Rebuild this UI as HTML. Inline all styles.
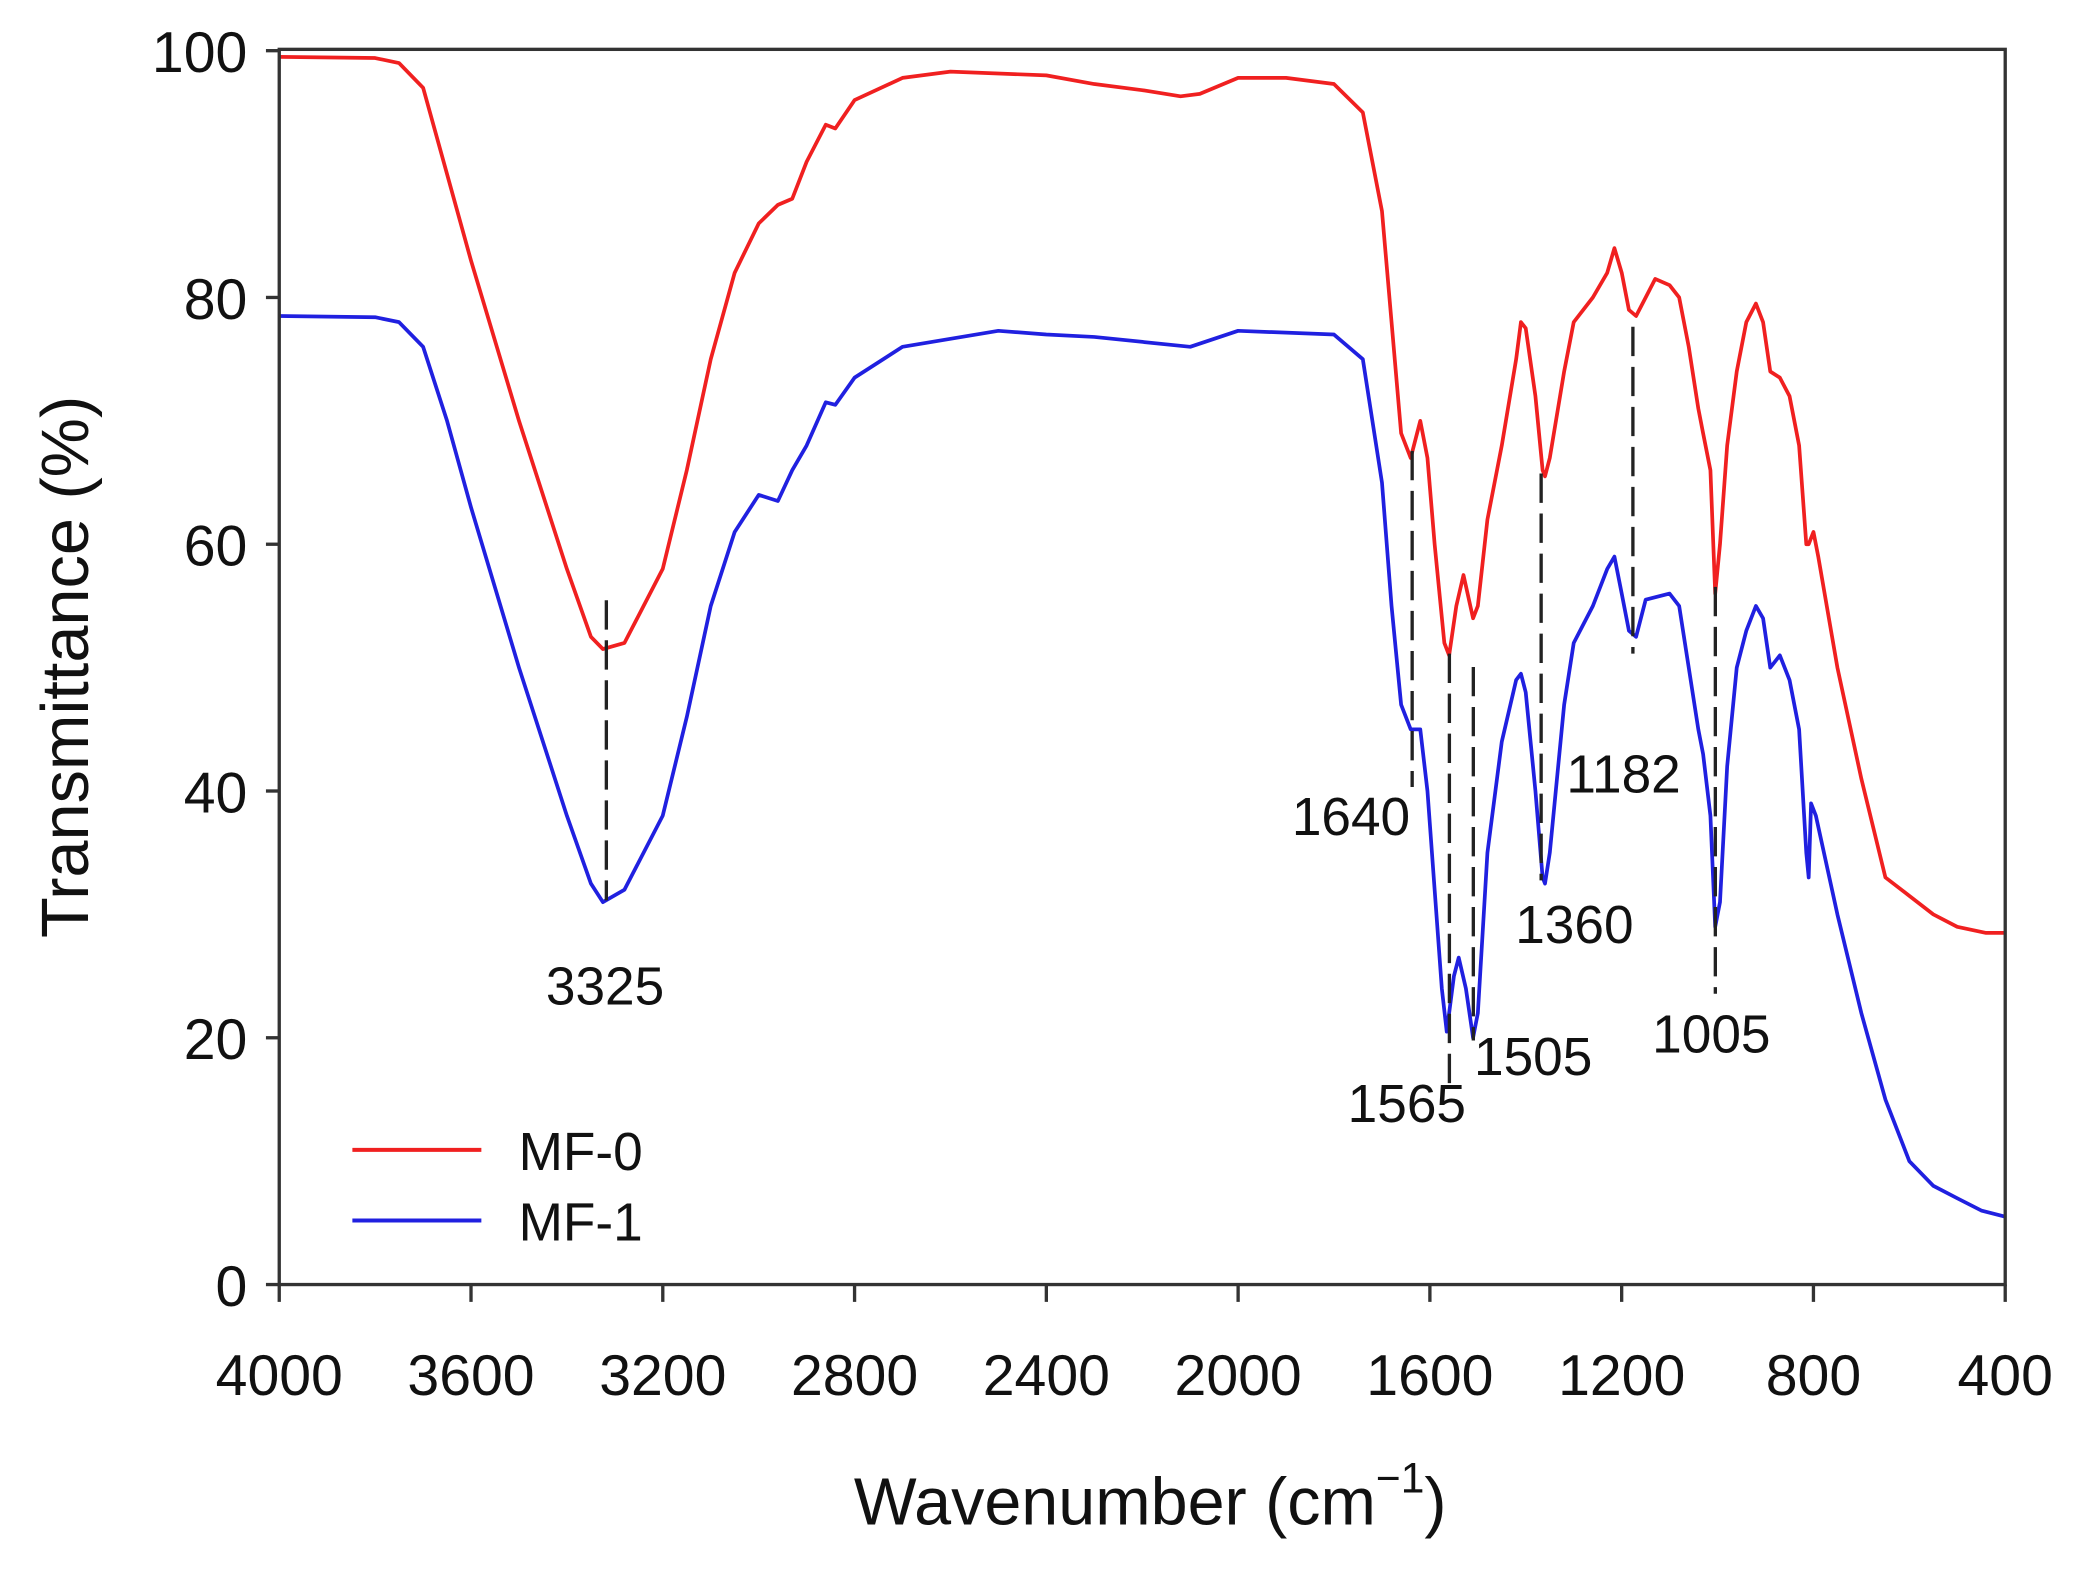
<!DOCTYPE html>
<html><head><meta charset="utf-8"><style>
html,body{margin:0;padding:0;background:#fff;}
svg{display:block;}
text{font-family:"Liberation Sans",Arial,sans-serif;fill:#111;}
</style></head><body>
<svg id="s" width="2085" height="1574" viewBox="0 0 1568 1180" preserveAspectRatio="none" xmlns="http://www.w3.org/2000/svg">
<rect x="0" y="0" width="1568" height="1180" fill="#fff"/>
<g id="plot"></g>
<rect x="210" y="37" width="1298" height="926" fill="none" stroke="#333" stroke-width="2.5"/>
<g stroke="#333" stroke-width="2.5" id="ticks"></g>
<g font-size="43" text-anchor="end">
<text x="186" y="54">100</text><text x="186" y="239">80</text><text x="186" y="424">60</text>
<text x="186" y="609">40</text><text x="186" y="794">20</text><text x="186" y="979">0</text>
</g>
<g font-size="43" text-anchor="middle" id="xl"></g>
<text x="865" y="1143" font-size="50" text-anchor="middle">Wavenumber (cm<tspan font-size="32" dy="-24">−1</tspan><tspan dy="24">)</tspan></text>
<text transform="translate(66,500) rotate(-90)" font-size="50" text-anchor="middle">Transmittance (%)</text>
<g stroke="#222" stroke-width="2.5" stroke-dasharray="22,8">
<line x1="456" y1="450" x2="456" y2="675"/>
<line x1="1062" y1="338" x2="1062" y2="590"/>
<line x1="1090" y1="490" x2="1090" y2="820"/>
<line x1="1108" y1="500" x2="1108" y2="780"/>
<line x1="1159" y1="355" x2="1159" y2="660"/>
<line x1="1228" y1="245" x2="1228" y2="490"/>
<line x1="1290" y1="440" x2="1290" y2="745"/>
</g>
<g font-size="40" text-anchor="middle">
<text x="455" y="753">3325</text><text x="1016" y="626">1640</text>
<text x="1058" y="841">1565</text><text x="1153" y="806">1505</text>
<text x="1184" y="707">1360</text><text x="1221" y="594">1182</text>
<text x="1287" y="789">1005</text>
</g>
<line x1="265" y1="862" x2="362" y2="862" stroke="#f02020" stroke-width="3"/>
<line x1="265" y1="915" x2="362" y2="915" stroke="#2020e0" stroke-width="3"/>
<text x="390" y="877" font-size="40">MF-0</text>
<text x="390" y="930" font-size="40">MF-1</text>
</svg>
<script>
var X=function(w){return 210+(4000-w)/3600*1298;},Y=function(v){return 963-v*9.25;};
var red=[4000,99.5,3800,99.4,3750,99,3700,97,3650,90,3600,83,3500,70,3400,58,3350,52.5,3325,51.5,3280,52,3200,58,3150,66,3100,75,3050,82,3000,86,2960,87.5,2930,88,2900,91,2860,94,2840,93.7,2800,96,2700,97.8,2600,98.3,2400,98,2300,97.3,2200,96.8,2120,96.3,2080,96.5,2000,97.8,1900,97.8,1800,97.3,1740,95,1700,87,1680,78,1660,69,1640,67,1620,70,1605,67,1590,60,1570,52,1560,51,1545,55,1530,57.5,1510,54,1500,55,1480,62,1450,68,1420,75,1410,78,1400,77.5,1380,72,1365,66,1360,65.5,1350,67,1320,74,1300,78,1260,80,1230,82,1215,84,1200,82,1185,79,1170,78.5,1150,80,1130,81.5,1100,81,1080,80,1060,76,1040,71,1030,69,1015,66,1005,56,995,60,980,68,960,74,940,78,920,79.5,905,78,890,74,870,73.5,850,72,830,68,815,60,810,60,800,61,790,59,750,50,700,41,650,33,600,31.5,550,30,500,29,440,28.5,400,28.5];
var blue=[4000,78.5,3800,78.4,3750,78,3700,76,3650,70,3600,63,3500,50,3400,38,3350,32.5,3325,31,3280,32,3200,38,3150,46,3100,55,3050,61,3000,64,2960,63.5,2930,66,2900,68,2860,71.5,2840,71.3,2800,73.5,2700,76,2500,77.3,2400,77,2300,76.8,2100,76,2000,77.3,1800,77,1740,75,1700,65,1680,55,1660,47,1640,45,1620,45,1605,40,1590,32,1575,24,1565,20.5,1550,25,1540,26.5,1525,24,1510,20,1500,22,1480,35,1450,44,1420,49,1410,49.5,1400,48,1380,40,1365,33,1360,32.5,1350,35,1320,47,1300,52,1260,55,1230,58,1215,59,1200,56,1185,53,1170,52.5,1150,55.5,1100,56,1080,55,1060,50,1040,45,1030,43,1015,38,1005,29,995,31,980,42,960,50,940,53,920,55,905,54,890,50,870,51,850,49,830,45,815,35,810,33,805,39,795,38,750,30,700,22,650,15,600,10,550,8,500,7,450,6,400,5.5];
var NS="http://www.w3.org/2000/svg",plot=document.getElementById('plot');
function pl(d,c){var p=[];for(var i=0;i<d.length;i+=2)p.push(X(d[i]).toFixed(1)+','+Y(d[i+1]).toFixed(1));
var e=document.createElementNS(NS,'polyline');e.setAttribute('points',p.join(' '));e.setAttribute('fill','none');e.setAttribute('stroke',c);e.setAttribute('stroke-width','2.8');e.setAttribute('stroke-linejoin','round');plot.appendChild(e);}
pl(red,'#f02020');pl(blue,'#2020e0');
var t=document.getElementById('ticks'),xl=document.getElementById('xl');
for(var v=0;v<=100;v+=20){var l=document.createElementNS(NS,'line');l.setAttribute('x1',200);l.setAttribute('x2',210);l.setAttribute('y1',Y(v));l.setAttribute('y2',Y(v));t.appendChild(l);}
for(var w=4000;w>=400;w-=400){var x=X(w);var l=document.createElementNS(NS,'line');l.setAttribute('x1',x);l.setAttribute('x2',x);l.setAttribute('y1',963);l.setAttribute('y2',976);t.appendChild(l);
var tx=document.createElementNS(NS,'text');tx.setAttribute('x',x);tx.setAttribute('y',1046);tx.textContent=w;xl.appendChild(tx);}
</script>
</body></html>
